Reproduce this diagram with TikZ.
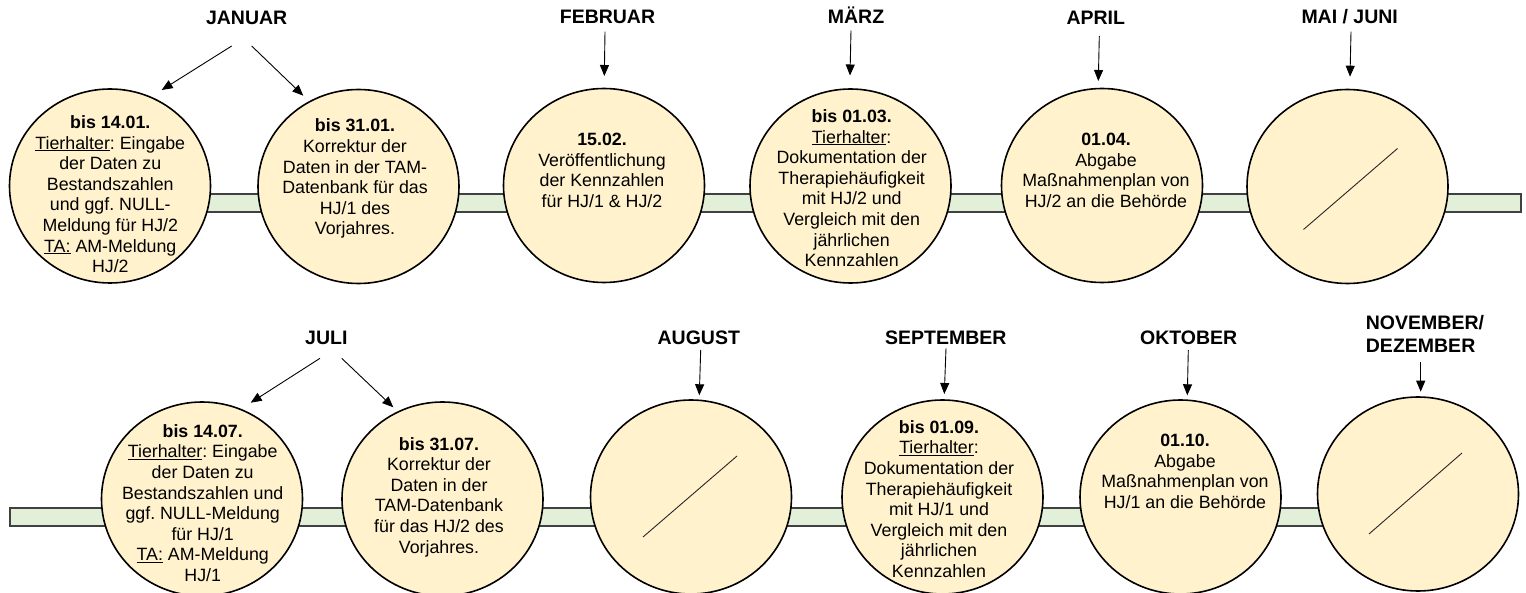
\documentclass[tikz,border=0pt]{standalone}
\usepackage{fontspec}
\setmainfont{Liberation Sans}
\usetikzlibrary{arrows.meta,shapes.geometric,backgrounds}
\definecolor{circfill}{HTML}{FFF2CC}
\definecolor{barfill}{HTML}{E2F0D9}
\definecolor{barline}{HTML}{404040}
\frenchspacing
\newcommand{\circtext}[1]{\begin{tabular}[t]{@{}c@{}}#1\end{tabular}}
\newcommand{\lefttext}[1]{\begin{tabular}[t]{@{}l@{}}#1\end{tabular}}
\begin{document}
\begin{tikzpicture}[x=1pt,y=-1pt,
 circ/.style={ellipse, draw=black, line width=1.6pt, fill=circfill, minimum width=201pt, minimum height=194pt, inner sep=0pt},
 txt/.style={anchor=base, inner sep=0pt, font=\fontsize{17.8}{20.6}\selectfont},
 month/.style={anchor=base, inner sep=0pt, font=\bfseries\fontsize{19.5}{22.7}\selectfont},
 arr/.style={line width=0.9pt, -{Triangle[length=11pt,width=9pt]}},
 bar/.style={draw=barline, line width=1.6pt, fill=barfill},
 slash/.style={line width=0.9pt, draw=black!85}]
\useasboundingbox (0,0) rectangle (1526,593);

% circles, top row
\node[circ] (c1) at (110,186) {};
\node[circ] (c2) at (358.5,186.5) {};
\node[circ] (c3) at (604,185.5) {};
\node[circ] (c4) at (850.5,186) {};
\node[circ] (c5) at (1102,185.5) {};
\node[circ] (c6) at (1347.5,186.5) {};
% circles, bottom row
\node[circ] (c7) at (202,499) {};
\node[circ] (c8) at (442.5,499) {};
\node[circ] (c9) at (691,497) {};
\node[circ] (c10) at (942.5,497) {};
\node[circ] (c11) at (1180.5,497) {};
\node[circ] (c12) at (1418,494) {};

% bars
\coordinate (b1s) at (110,194);
\coordinate (b1e) at (1521,212);
\coordinate (b2s) at (10,508);
\coordinate (b2e) at (1418,526);
\begin{pgfonlayer}{background}
\draw[bar] (b1s) rectangle (b1e);
\draw[bar] (b2s) rectangle (b2e);
\end{pgfonlayer}

% empty circles
\draw[slash] ([shift={(-44,43)}]c6.center) -- ([shift={(50,-38)}]c6.center);
\draw[slash] ([shift={(-48,40)}]c9.center) -- ([shift={(46,-41)}]c9.center);
\draw[slash] ([shift={(-49,40)}]c12.center) -- ([shift={(44,-41)}]c12.center);

% texts in circles
\node[txt] (t1) at (110.3,128.5) {\circtext{\textbf{bis 14.01.}\\ \underline{Tierhalter}: Eingabe\\ der Daten zu\\ Bestandszahlen\\ und ggf. NULL-\\ Meldung für HJ/2\\ \underline{TA:} AM-Meldung\\ HJ/2}};
\node[txt] (t2) at (355,132) {\circtext{\textbf{bis 31.01.}\\ Korrektur der\\ Daten in der TAM-\\ Datenbank für das\\ HJ/1 des\\ Vorjahres.}};
\node[txt] (t3) at (602,145.5) {\circtext{\textbf{15.02.}\\ Veröffentlichung\\ der Kennzahlen\\ für HJ/1 \& HJ/2}};
\node[txt] (t4) at (851.7,122.5) {\circtext{\textbf{bis 01.03.}\\ \underline{Tierhalter}:\\ Dokumentation der\\ Therapiehäufigkeit\\ mit HJ/2 und\\ Vergleich mit den\\ jährlichen\\ Kennzahlen}};
\node[txt] (t5) at (1106,145.7) {\circtext{\textbf{01.04.}\\ Abgabe\\ Maßnahmenplan von\\ HJ/2 an die Behörde}};
\node[txt] (t7) at (202.7,437.3) {\circtext{\textbf{bis 14.07.}\\ \underline{Tierhalter}: Eingabe\\ der Daten zu\\ Bestandszahlen und\\ ggf. NULL-Meldung\\ für HJ/1\\ \underline{TA:} AM-Meldung\\ HJ/1}};
\node[txt] (t8) at (439,450) {\circtext{\textbf{bis 31.07.}\\ Korrektur der\\ Daten in der\\ TAM-Datenbank\\ für das HJ/2 des\\ Vorjahres.}};
\node[txt] (t10) at (939,433.3) {\circtext{\textbf{bis 01.09.}\\ \underline{Tierhalter}:\\ Dokumentation der\\ Therapiehäufigkeit\\ mit HJ/1 und\\ Vergleich mit den\\ jährlichen\\ Kennzahlen}};
\node[txt] (t11) at (1185,446.7) {\circtext{\textbf{01.10.}\\ Abgabe\\ Maßnahmenplan von\\ HJ/1 an die Behörde}};

% month labels
\node[month] (m1) at (246.7,25) {JANUAR};
\node[month] (m2) at (607.5,24) {FEBRUAR};
\node[month] (m3) at (856,24) {MÄRZ};
\node[month] (m4) at (1095.8,24.3) {APRIL};
\node[month] (m5) at (1349.7,24) {MAI / JUNI};
\node[month] (m6) at (326.3,344.3) {JULI};
\node[month] (m7) at (698.8,344.3) {AUGUST};
\node[month] (m8) at (945.8,344.3) {SEPTEMBER};
\node[month] (m9) at (1188.7,344.3) {OKTOBER};
\node[month, anchor=base west] (m10) at (1365.7,330) {\lefttext{NOVEMBER/\\ DEZEMBER}};

% arrow coordinates
\coordinate (a1s) at (231.7,46);   \coordinate (a1e) at (161.7,90);
\coordinate (a2s) at (251.7,46);   \coordinate (a2e) at (303.3,95.7);
\coordinate (a3s) at (605,31.7);   \coordinate (a3e) at (604.3,76);
\coordinate (a4s) at (851,30.5);   \coordinate (a4e) at (850,75.5);
\coordinate (a5s) at (1099.3,36);  \coordinate (a5e) at (1098.3,81);
\coordinate (a6s) at (1351,31.7);  \coordinate (a6e) at (1350,76.7);
\coordinate (a7s) at (320,358.3);  \coordinate (a7e) at (250.7,402.7);
\coordinate (a8s) at (341.7,358.3);\coordinate (a8e) at (393.3,407.3);
\coordinate (a9s) at (700.7,350);  \coordinate (a9e) at (699.3,395.3);
\coordinate (a10s) at (946,348.3); \coordinate (a10e) at (944.3,394);
\coordinate (a11s) at (1188.3,350);\coordinate (a11e) at (1187.3,395.3);
\coordinate (a12s) at (1420.7,361.7);\coordinate (a12e) at (1420.7,391.7);

\foreach \i in {1,...,12} {\draw[arr] (a\i s) -- (a\i e);}
\end{tikzpicture}
\end{document}
